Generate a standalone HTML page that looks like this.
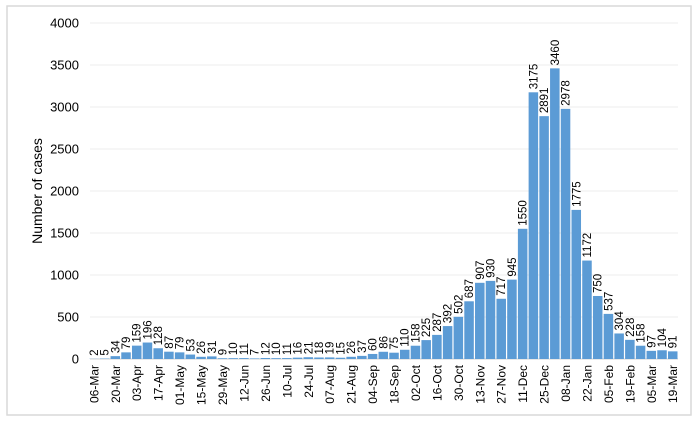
<!DOCTYPE html>
<html><head><meta charset="utf-8"><style>
body{margin:0;background:#fff;}
svg{display:block;font-family:"Liberation Sans",Arial,sans-serif;}
</style></head><body>
<svg id="chart" width="700" height="422">
<rect x="7" y="6" width="684" height="409" fill="#fff" stroke="#d9d9d9" stroke-width="1.5"/>
<text x="0" y="0" transform="translate(42,191) rotate(-90)" text-anchor="middle" font-size="14" fill="#000">Number of cases</text>
<g id="grid"></g><g id="bars"></g><g id="labels"></g><g id="xt"></g><g id="yt"></g>
</svg>
<script>
const categories=["06-Mar","13-Mar","20-Mar","27-Mar","03-Apr","10-Apr","17-Apr","24-Apr","01-May","08-May","15-May","22-May","29-May","05-Jun","12-Jun","19-Jun","26-Jun","03-Jul","10-Jul","17-Jul","24-Jul","31-Jul","07-Aug","14-Aug","21-Aug","28-Aug","04-Sep","11-Sep","18-Sep","25-Sep","02-Oct","09-Oct","16-Oct","23-Oct","30-Oct","06-Nov","13-Nov","20-Nov","27-Nov","04-Dec","11-Dec","18-Dec","25-Dec","01-Jan","08-Jan","15-Jan","22-Jan","29-Jan","05-Feb","12-Feb","19-Feb","26-Feb","05-Mar","12-Mar","19-Mar"];
const cases=[2,5,34,79,159,196,128,87,79,53,26,31,9,10,11,7,12,10,11,16,21,18,19,15,26,37,60,86,75,110,158,225,287,392,502,687,907,930,717,945,1550,3175,2891,3460,2978,1775,1172,750,537,304,228,158,97,104,91];
const yTicks=[0,500,1000,1500,2000,2500,3000,3500,4000];
const NS="http://www.w3.org/2000/svg";
const x0=88.5,slot=10.72,y0=359,yTop=23,yMax=4000;
function yScale(v){return y0-(v/yMax)*(y0-yTop);}
function xScale(i){return x0+i*slot;}
function mk(tag,attrs,parent){const e=document.createElementNS(NS,tag);for(const k in attrs)e.setAttribute(k,attrs[k]);parent.appendChild(e);return e;}
const g=document.getElementById('grid'),yt=document.getElementById('yt');
yTicks.forEach(t=>{
 const l=mk('line',{x1:90,x2:678,y1:yScale(t),y2:yScale(t),stroke:t===0?'#d0d0d0':'#ececec','stroke-width':1},g);
 
 
 const tx=mk('text',{x:79,y:yScale(t)+4.5,'text-anchor':'end','font-size':13,fill:'#000'},yt);
 tx.textContent=t;
 
 
});
const bg=document.getElementById('bars'),lg=document.getElementById('labels'),xg=document.getElementById('xt');
cases.forEach((v,i)=>{
 const x=xScale(i),y=yScale(v);
 const r=mk('rect',{x:x+0.6,y:y,width:slot-1.2,height:y0-y,fill:'#5b9bd5'},bg);
 
 
 const cx=x+slot/2;
 const t=mk('text',{transform:`translate(${cx+4},${y-3}) rotate(-90)`,'font-size':11.5,fill:'#000'},lg);
 t.textContent=v;
 
 
 if(i%2===0){
  const xt=mk('text',{transform:`translate(${cx+4.5},${y0+6}) rotate(-90)`,'text-anchor':'end','font-size':12,fill:'#000'},xg);
  xt.textContent=categories[i];
  
  
 }
});
</script>
</body></html>
